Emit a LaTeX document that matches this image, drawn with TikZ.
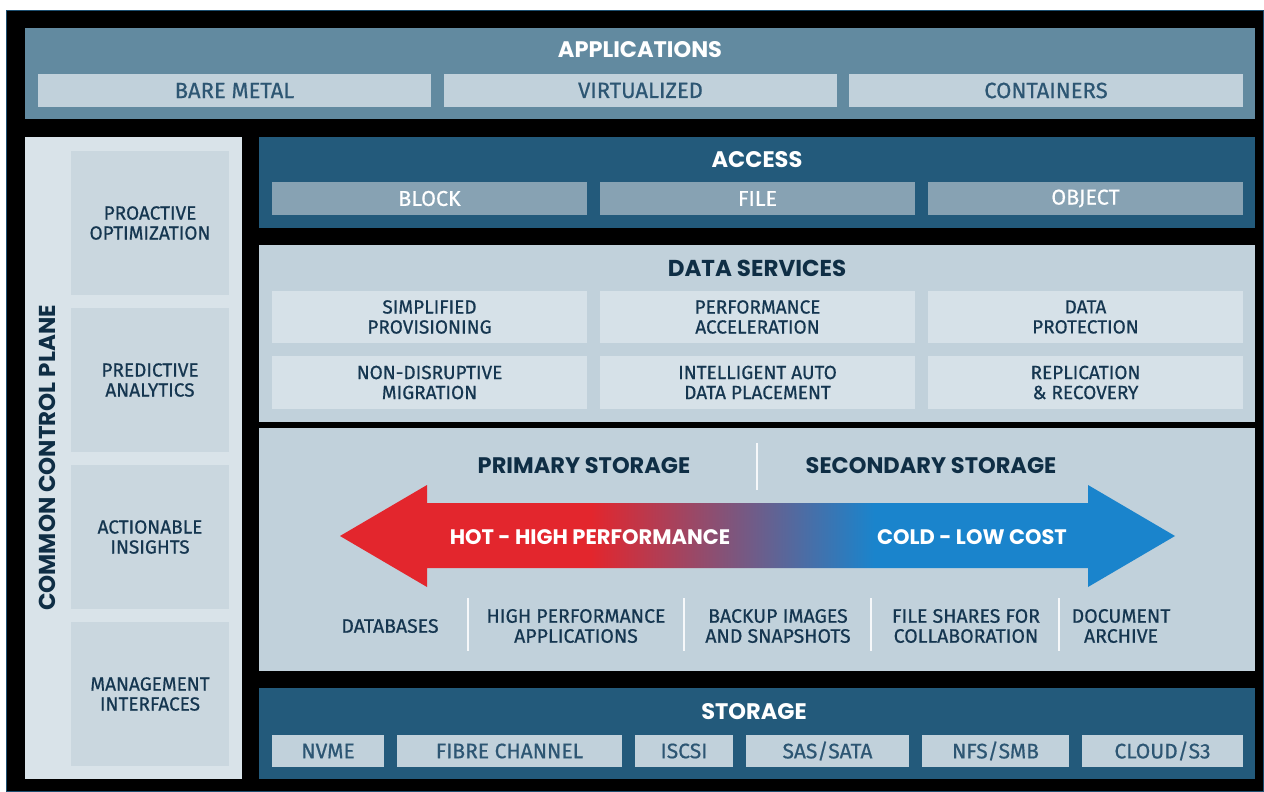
\documentclass[tikz,border=0pt]{standalone}
\usepackage{fontspec}
\setmainfont{Fira Sans}[FakeBold=0.6]
\newfontfamily\geofont{Poppins}
\definecolor{appbg}{HTML}{628AA0}
\definecolor{lightbox}{HTML}{C1D1DB}
\definecolor{paleb}{HTML}{D6E1E8}
\definecolor{darkbg}{HTML}{235A7B}
\definecolor{accbox}{HTML}{87A2B3}
\definecolor{cpouter}{HTML}{D9E3E9}
\definecolor{cpinner}{HTML}{CAD7DF}
\definecolor{midtext}{HTML}{2D5673}
\definecolor{darktext}{HTML}{153650}
\definecolor{titletext}{HTML}{0F2E45}
\definecolor{hotred}{HTML}{E3262D}
\definecolor{coldblue}{HTML}{1A84CC}
\definecolor{edgeblue}{HTML}{1D4F70}
\pgfdeclarehorizontalshading{hotcold}{100bp}{color(0bp)=(hotred); color(40bp)=(hotred); color(57bp)=(coldblue); color(100bp)=(coldblue)}
\newcommand\mkbox[7]{% style, name, x1, y1, x2, y2, text
  \node[#1, minimum width={(#5-#3)*1pt}, minimum height={(#6-#4)*1pt}] (#2) at ({(#3+#5)/2},{(#4+#6)/2}) {#7};}
\begin{document}
\begin{tikzpicture}[x=1pt,y=-1pt,
  base/.style={inner sep=0pt, outer sep=0pt, align=center},
  panel/.style={base, fill=#1},
  appitem/.style={base, fill=lightbox, text=midtext, font=\fontsize{22}{24}\selectfont},
  accitem/.style={base, fill=accbox, text=white, font=\fontsize{21.5}{24}\selectfont},
  dsitem/.style={base, fill=paleb, text=darktext, font=\fontsize{19}{20}\selectfont},
  cpitem/.style={base, fill=cpinner, text=darktext, font=\fontsize{19}{20}\selectfont},
  stitem/.style={base, fill=lightbox, text=midtext, font=\fontsize{21}{24}\selectfont},
  wtitle/.style={base, text=white, font=\geofont\bfseries\fontsize{22.5}{26}\selectfont},
  dtitle/.style={base, text=titletext, font=\geofont\bfseries\fontsize{23}{26}\selectfont},
  geotitle/.style={base, text=titletext, font=\geofont\bfseries\fontsize{22.5}{26}\selectfont},
  arrowtext/.style={base, text=white, font=\geofont\bfseries\fontsize{21}{24}\selectfont},
  uselabel/.style={base, text=darktext, font=\fontsize{19.5}{20}\selectfont},
  sepline/.style={draw=white!85!lightbox, line width=1.5pt}
]
\useasboundingbox (0,0) rectangle (1264,792);
\fill[white] (0,0) rectangle (1264,792);
\filldraw[fill=black, draw=edgeblue, line width=1.2pt] (6.5,10.5) rectangle (1264,792);

% applications
\mkbox{panel=appbg}{apps}{25}{28}{1255}{119}{}
\node[wtitle] (appsT) at (640,50) {APPLICATIONS};
\mkbox{appitem}{bare}{38}{74}{431}{107}{BARE METAL}
\mkbox{appitem}{virt}{444}{74}{837}{107}{VIRTUALIZED}
\mkbox{appitem}{cont}{849}{74}{1243}{107}{CONTAINERS}

% control plane
\mkbox{panel=cpouter}{cp}{25}{137}{242}{779}{}
\node[base, rotate=90, text=titletext, font=\geofont\bfseries\fontsize{23}{26}\selectfont] (cpT) at (47,458) {COMMON CONTROL PLANE};
\mkbox{cpitem}{pro}{71}{151}{229}{295}{PROACTIVE\\OPTIMIZATION}
\mkbox{cpitem}{pred}{71}{308}{229}{452}{PREDICTIVE\\ANALYTICS}
\mkbox{cpitem}{act}{71}{465}{229}{609}{ACTIONABLE\\INSIGHTS}
\mkbox{cpitem}{mgmt}{71}{622}{229}{766}{MANAGEMENT\\INTERFACES}

% access
\mkbox{panel=darkbg}{acc}{259}{137}{1255}{228}{}
\node[wtitle] (accT) at (757,160) {ACCESS};
\mkbox{accitem}{blk}{272}{182}{587}{215}{BLOCK}
\mkbox{accitem}{fil}{600}{182}{915}{215}{FILE}
\mkbox{accitem}{obj}{928}{182}{1243}{215}{OBJECT}

% data services
\mkbox{panel=lightbox}{ds}{259}{245}{1255}{422}{}
\node[dtitle] (dsT) at (757,268) {DATA SERVICES};
\mkbox{dsitem}{simp}{272}{291}{587}{343}{SIMPLIFIED\\PROVISIONING}
\mkbox{dsitem}{perf}{600}{291}{915}{343}{PERFORMANCE\\ACCELERATION}
\mkbox{dsitem}{prot}{928}{291}{1243}{343}{DATA\\PROTECTION}
\mkbox{dsitem}{nond}{272}{356}{587}{409}{NON-DISRUPTIVE\\MIGRATION}
\mkbox{dsitem}{intel}{600}{356}{915}{409}{INTELLIGENT AUTO\\DATA PLACEMENT}
\mkbox{dsitem}{repl}{928}{356}{1243}{409}{REPLICATION\\\& RECOVERY}

% storage tiers
\mkbox{panel=lightbox}{tier}{259}{428}{1255}{671}{}
\node[geotitle] (prim) at (584,466) {PRIMARY STORAGE};
\node[geotitle] (sec) at (931,466) {SECONDARY STORAGE};
\coordinate (sepTop) at (757,443);
\coordinate (sepBot) at (757,490);
\draw[sepline] (sepTop) -- (sepBot);
\shade[shading=hotcold] (340,536) -- (427,485) -- (427,503) -- (1088,503) -- (1088,485) -- (1175,536) -- (1088,587) -- (1088,568) -- (427,568) -- (427,587) -- cycle;
\node[arrowtext] (hot) at (590,537) {HOT - HIGH PERFORMANCE};
\node[arrowtext] (cold) at (972,537) {COLD - LOW COST};
\node[uselabel] (db) at (390,626) {DATABASES};
\node[uselabel] (hpa) at (576,626) {HIGH PERFORMANCE\\APPLICATIONS};
\node[uselabel] (bk) at (778,626) {BACKUP IMAGES\\AND SNAPSHOTS};
\node[uselabel] (fs) at (966,626) {FILE SHARES FOR\\COLLABORATION};
\node[uselabel] (doc) at (1121,626) {DOCUMENT\\ARCHIVE};
\foreach \sx [count=\i] in {468,684,871,1059}{
  \coordinate (s\i a) at (\sx,598);
  \coordinate (s\i b) at (\sx,651);
  \draw[sepline] (s\i a) -- (s\i b);
}

% storage
\mkbox{panel=darkbg}{stor}{259}{688}{1255}{779}{}
\node[wtitle] (storT) at (754,712) {STORAGE};
\mkbox{stitem}{nvme}{272}{735}{384}{767}{NVME}
\mkbox{stitem}{fc}{397}{735}{622}{767}{FIBRE CHANNEL}
\mkbox{stitem}{iscsi}{635}{735}{733}{767}{ISCSI}
\mkbox{stitem}{sas}{746}{735}{909}{767}{SAS/SATA}
\mkbox{stitem}{nfs}{922}{735}{1069}{767}{NFS/SMB}
\mkbox{stitem}{cloud}{1082}{735}{1243}{767}{CLOUD/S3}
\end{tikzpicture}
\end{document}
